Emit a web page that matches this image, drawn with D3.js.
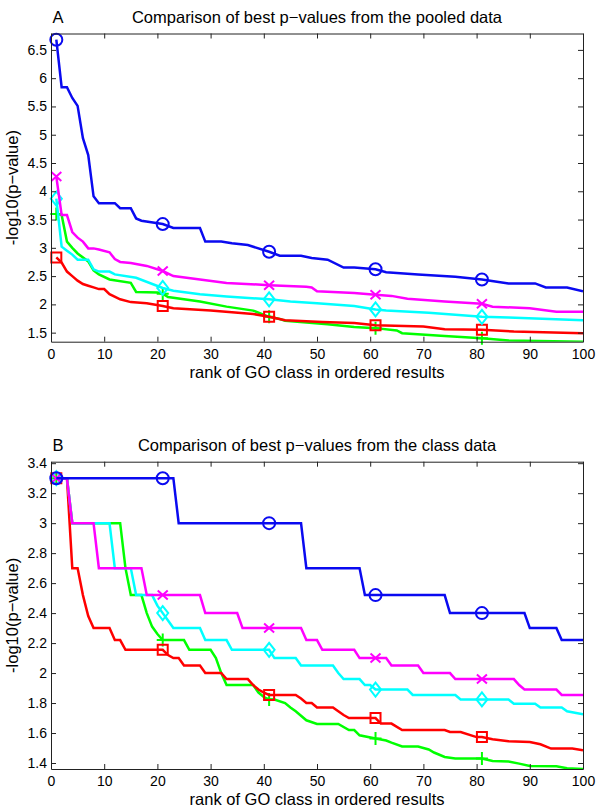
<!DOCTYPE html>
<html>
<head>
<meta charset="utf-8" />
<title>Comparison of best p-values</title>
<script src="https://d3js.org/d3.v7.min.js"></script>
<style>
  body { margin: 0; background: #fff; }
  text { font-family: "Liberation Sans", Arial, Helvetica, sans-serif; fill: #000; }
</style>
</head>
<body>
<svg width="600" height="810"></svg>
<script>
// shared x axis (rank 0..100) and where markers sit
const xTicks = [0, 10, 20, 30, 40, 50, 60, 70, 80, 90, 100];
const markerRanks = [1, 21, 41, 61, 81];

// ---- panel A: pooled data, [rank, -log10(p)] breakpoints
const pooledYTicks = [1.5, 2, 2.5, 3, 3.5, 4, 4.5, 5, 5.5, 6, 6.5];
const pooledBlue = [[1,6.68],[2,5.84],[3,5.84],[4,5.65],[5,5.51],[6,4.94],[7,4.64],[8,3.91],[9,3.79],[12,3.79],[13,3.70],[15,3.70],[16,3.52],[17,3.48],[21,3.42],[23,3.35],[28,3.35],[29,3.11],[32,3.11],[34,3.08],[37,3.05],[41,2.93],[43,2.86],[47,2.86],[49,2.82],[52,2.79],[55,2.65],[57,2.65],[61,2.62],[63,2.57],[69,2.53],[76,2.49],[81,2.44],[86,2.37],[91,2.37],[93,2.30],[97,2.30],[100,2.23]];
const pooledMagenta = [[1,4.26],[2,3.58],[3,3.58],[4,3.28],[5,3.18],[6,3.11],[7,2.99],[8,2.99],[9,2.97],[11,2.92],[12,2.80],[13,2.75],[15,2.73],[18,2.68],[21,2.59],[23,2.50],[28,2.44],[33,2.38],[41,2.34],[48,2.31],[49,2.30],[50,2.23],[57,2.20],[61,2.17],[64,2.15],[67,2.10],[74,2.05],[81,2.01],[83,1.96],[90,1.93],[95,1.87],[100,1.87]];
const pooledCyan = [[1,3.87],[2,3.02],[3,2.95],[4,2.88],[5,2.79],[7,2.79],[8,2.62],[9,2.58],[11,2.58],[12,2.53],[16,2.47],[21,2.29],[23,2.24],[28,2.18],[33,2.14],[41,2.09],[45,2.05],[50,2.02],[57,1.97],[61,1.91],[63,1.89],[71,1.85],[81,1.78],[86,1.77],[100,1.72]];
const pooledGreen = [[1,3.60],[2,3.58],[3,3.11],[4,3.00],[5,2.90],[7,2.76],[8,2.60],[9,2.53],[11,2.44],[15,2.38],[16,2.22],[20,2.21],[21,2.19],[22,2.13],[28,2.05],[33,1.96],[38,1.89],[41,1.78],[43,1.74],[44,1.71],[52,1.65],[57,1.60],[61,1.58],[65,1.54],[66,1.49],[74,1.44],[81,1.40],[86,1.36],[100,1.34]];
const pooledRed = [[1,2.83],[2,2.74],[3,2.58],[4,2.50],[5,2.42],[6,2.36],[7,2.33],[8,2.30],[9,2.27],[10,2.27],[11,2.18],[13,2.09],[15,2.04],[18,2.02],[21,1.97],[23,1.93],[30,1.89],[38,1.83],[41,1.78],[44,1.72],[51,1.69],[57,1.67],[61,1.63],[70,1.61],[74,1.56],[81,1.55],[87,1.52],[100,1.49]];

// ---- panel B: class data
const classYTicks = [1.4, 1.6, 1.8, 2, 2.2, 2.4, 2.6, 2.8, 3, 3.2, 3.4];
const classBlue = [[1,3.30],[21,3.30],[23,3.30],[24,3.00],[41,3.00],[47,3.00],[48,2.70],[58,2.70],[59,2.52],[61,2.52],[74,2.52],[75,2.40],[81,2.40],[89,2.40],[90,2.30],[95,2.30],[96,2.22],[100,2.22]];
const classMagenta = [[1,3.30],[3,3.30],[4,3.00],[8,3.00],[9,2.70],[17,2.70],[18,2.52],[21,2.52],[28,2.52],[29,2.40],[35,2.40],[36,2.30],[41,2.30],[47,2.30],[48,2.22],[50,2.22],[51,2.155],[57,2.155],[58,2.10],[61,2.10],[63,2.10],[64,2.05],[69,2.05],[70,2.00],[75,2.00],[76,1.96],[81,1.96],[87,1.96],[88,1.92],[89,1.89],[95,1.89],[96,1.854],[100,1.854]];
const classCyan = [[1,3.30],[3,3.30],[4,3.00],[11,3.00],[12,2.70],[15,2.70],[16,2.52],[19,2.52],[20,2.45],[21,2.40],[22,2.35],[23,2.30],[28,2.30],[29,2.22],[33,2.22],[34,2.155],[41,2.155],[42,2.10],[46,2.10],[47,2.05],[53,2.05],[54,2.00],[55,1.96],[58,1.96],[59,1.92],[60,1.92],[61,1.89],[67,1.89],[68,1.854],[76,1.854],[77,1.824],[81,1.824],[86,1.824],[87,1.796],[91,1.796],[92,1.77],[96,1.77],[97,1.745],[100,1.725]];
const classGreen = [[1,3.30],[3,3.30],[4,3.00],[13,3.00],[14,2.70],[15,2.52],[17,2.52],[18,2.40],[19,2.31],[20,2.26],[21,2.22],[25,2.22],[26,2.155],[30,2.155],[31,2.10],[32,2.00],[33,1.92],[38,1.92],[39,1.87],[40,1.84],[41,1.824],[42,1.824],[44,1.80],[45,1.77],[46,1.745],[48,1.685],[50,1.66],[54,1.66],[56,1.62],[57,1.62],[58,1.585],[61,1.563],[63,1.55],[64,1.536],[66,1.51],[69,1.51],[71,1.49],[72,1.47],[74,1.44],[76,1.43],[81,1.43],[83,1.413],[86,1.41],[88,1.396],[90,1.38],[95,1.378],[97,1.365],[100,1.36]];
const classRed = [[1,3.30],[3,3.30],[4,2.70],[5,2.70],[6,2.52],[7,2.38],[8,2.30],[11,2.30],[12,2.22],[13,2.22],[14,2.155],[21,2.155],[22,2.12],[23,2.10],[24,2.10],[25,2.05],[28,2.05],[29,2.00],[32,2.00],[33,1.96],[37,1.96],[38,1.92],[39,1.89],[40,1.87],[41,1.854],[46,1.854],[47,1.83],[48,1.80],[49,1.80],[50,1.77],[53,1.77],[54,1.745],[55,1.72],[56,1.70],[61,1.70],[62,1.663],[64,1.663],[66,1.62],[74,1.62],[75,1.607],[77,1.607],[80,1.573],[81,1.573],[83,1.558],[86,1.545],[90,1.54],[92,1.525],[94,1.496],[98,1.496],[100,1.485]];

const svg = d3.select("svg");
const left = 51, right = 583;

// marker shapes, drawn as strokes like matlab's o x d + s
const markerPaths = {
  circle: "M6,0A6,6 0 1,1 -6,0A6,6 0 1,1 6,0Z",
  times: "M-5,-4.5L5,4.5M-5,4.5L5,-4.5",
  diamond: "M0,-7L5.5,0L0,7L-5.5,0Z",
  plus: "M-6,0L6,0M0,-6.5L0,6.5",
  square: "M-5,-5H5V5H-5Z"
};

function drawPanel(p) {
  const x = d3.scaleLinear().domain([0, 100]).range([left, right]);
  const y = d3.scaleLinear().domain(p.yDomain).range([p.bottom, p.top]);
  const g = svg.append("g");

  g.append("clipPath").attr("id", "clip" + p.letter)
    .append("rect").attr("x", left).attr("y", p.top)
    .attr("width", right - left).attr("height", p.bottom - p.top);

  const line = d3.line().x(d => x(d[0])).y(d => y(d[1]));

  p.series.forEach(s => {
    g.append("path").datum(s.data)
      .attr("d", line)
      .attr("fill", "none")
      .attr("stroke", s.color)
      .attr("stroke-width", 2.5)
      .attr("clip-path", `url(#clip${p.letter})`);

    const pts = s.data.filter(d => markerRanks.includes(d[0]));
    g.selectAll(null).data(pts).enter().append("path")
      .attr("d", markerPaths[s.marker])
      .attr("transform", d => `translate(${x(d[0])},${y(d[1])})`)
      .attr("fill", "none")
      .attr("stroke", s.color)
      .attr("stroke-width", 2);
  });

  // box with inward ticks on every side
  const fmt = d3.format("~g");
  const styleAxis = a => {
    a.attr("font-size", 14).attr("font-family", '"Liberation Sans", Arial, sans-serif');
    a.selectAll("path,line").attr("stroke", "#222");
    a.selectAll("text").attr("fill", "#000");
  };
  g.append("g").attr("transform", `translate(0,${p.bottom})`)
    .call(d3.axisBottom(x).tickValues(xTicks).tickSizeInner(-5).tickSizeOuter(0).tickPadding(7))
    .call(styleAxis);
  g.append("g").attr("transform", `translate(0,${p.top})`)
    .call(d3.axisTop(x).tickValues(xTicks).tickSizeInner(-5).tickSizeOuter(0).tickFormat(""))
    .call(styleAxis);
  g.append("g").attr("transform", `translate(${left},0)`)
    .call(d3.axisLeft(y).tickValues(p.yTicks).tickFormat(fmt).tickSizeInner(-5).tickSizeOuter(0).tickPadding(4))
    .call(styleAxis);
  g.append("g").attr("transform", `translate(${right},0)`)
    .call(d3.axisRight(y).tickValues(p.yTicks).tickSizeInner(-5).tickSizeOuter(0).tickFormat(""))
    .call(styleAxis);

  // texts
  g.append("text").attr("x", (left + right) / 2).attr("y", p.top - 11)
    .attr("text-anchor", "middle").style("font-size", "16.5px").text(p.title);
  g.append("text").attr("x", 58).attr("y", p.top - 11)
    .attr("text-anchor", "middle").style("font-size", "16.5px").text(p.letter);
  g.append("text").attr("x", (left + right) / 2).attr("y", p.bottom + 36)
    .attr("text-anchor", "middle").style("font-size", "16.5px")
    .text("rank of GO class in ordered results");
  g.append("text")
    .attr("transform", `translate(18,${(p.top + p.bottom) / 2}) rotate(-90)`)
    .attr("text-anchor", "middle").style("font-size", "16.5px")
    .text("-log10(p\u2212value)");
}

const colors = { blue: "#0a0af0", magenta: "#ff00ff", cyan: "#00ffff", green: "#00ff00", red: "#ff0000" };

drawPanel({
  letter: "A",
  title: "Comparison of best p\u2212values from the pooled data",
  top: 33.5, bottom: 341.7,
  yDomain: [1.34, 6.79],
  yTicks: pooledYTicks,
  series: [
    { data: pooledGreen, color: colors.green, marker: "plus" },
    { data: pooledRed, color: colors.red, marker: "square" },
    { data: pooledCyan, color: colors.cyan, marker: "diamond" },
    { data: pooledMagenta, color: colors.magenta, marker: "times" },
    { data: pooledBlue, color: colors.blue, marker: "circle" }
  ]
});

drawPanel({
  letter: "B",
  title: "Comparison of best p\u2212values from the class data",
  top: 461.7, bottom: 769,
  yDomain: [1.36, 3.41],
  yTicks: classYTicks,
  series: [
    { data: classGreen, color: colors.green, marker: "plus" },
    { data: classRed, color: colors.red, marker: "square" },
    { data: classCyan, color: colors.cyan, marker: "diamond" },
    { data: classMagenta, color: colors.magenta, marker: "times" },
    { data: classBlue, color: colors.blue, marker: "circle" }
  ]
});
</script>
</body>
</html>
